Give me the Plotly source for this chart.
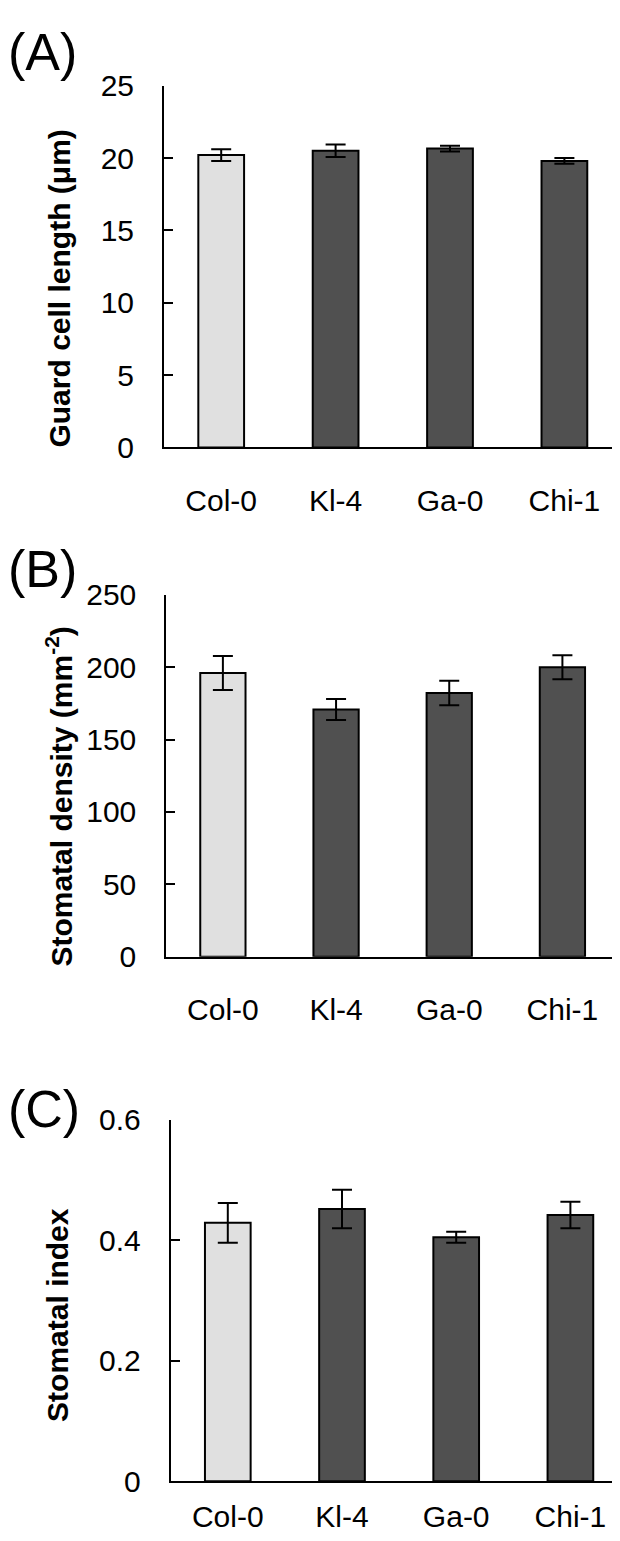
import plotly.graph_objects as go

W, H = 620, 1541

categories = ["Col-0", "Kl-4", "Ga-0", "Chi-1"]

# Panel A: guard cell length (um)
guard_len = [20.2, 20.5, 20.65, 19.8]
guard_err = [0.4, 0.43, 0.2, 0.2]

# Panel B: stomatal density (mm^-2)
density = [196.0, 170.8, 182.2, 200.0]
density_err = [11.7, 7.2, 8.4, 8.3]

# Panel C: stomatal index
index_vals = [0.429, 0.452, 0.405, 0.442]
index_err = [0.033, 0.032, 0.009, 0.022]

light = "rgb(224,224,224)"
dark = "rgb(80,80,80)"
bar_colors = [light, dark, dark, dark]

FONT = "Liberation Sans, Arial, sans-serif"


def px_x(p):
    return p / W


def py(p):
    return 1 - p / H


panels = [
    dict(vals=guard_len, err=guard_err, xd=[px_x(156), px_x(613.6)], yd=[py(432), py(62)],
         yr=[0, 25], tickvals=[0, 5, 10, 15, 20, 25], ticktext=["0", "5", "10", "15", "20", "25"],
         xstand=26),
    dict(vals=density, err=density_err, xd=[px_x(158.3), px_x(611)], yd=[py(952.7), py(582.7)],
         yr=[0, 250], tickvals=[0, 50, 100, 150, 200, 250], ticktext=["0", "50", "100", "150", "200", "250"],
         xstand=25),
    dict(vals=index_vals, err=index_err, xd=[px_x(162.7), px_x(619.5)], yd=[py(1489), py(1119.5)],
         yr=[0, 0.6], tickvals=[0, 0.2, 0.4, 0.6], ticktext=["0", "0.2", "0.4", "0.6"],
         xstand=8),
]

fig = go.Figure()
layout = dict(
    width=W, height=H, margin=dict(l=0, r=0, t=0, b=0),
    paper_bgcolor="white", plot_bgcolor="white", showlegend=False,
    font=dict(family=FONT, color="black"),
    bargap=0.6,
)

for i, p in enumerate(panels, start=1):
    sfx = "" if i == 1 else str(i)
    fig.add_trace(go.Bar(
        x=categories, y=p["vals"],
        marker=dict(color=bar_colors, line=dict(color="black", width=2)),
        error_y=dict(type="data", array=p["err"], visible=True, color="black", thickness=2, width=10),
        xaxis="x" + sfx, yaxis="y" + sfx, width=0.4,
    ))
    layout["xaxis" + sfx] = dict(
        domain=p["xd"], anchor="y" + sfx, showline=True, linecolor="black", linewidth=2,
        ticks="", showgrid=False, zeroline=False, tickfont=dict(size=30, family=FONT, color="black"),
        ticklabelstandoff=p["xstand"], range=[-0.5, 3.5],
    )
    layout["yaxis" + sfx] = dict(
        domain=p["yd"], anchor="x" + sfx, range=p["yr"], showline=True, linecolor="black", linewidth=2,
        ticks="inside", ticklen=9, tickwidth=2, tickcolor="black", showgrid=False, zeroline=False,
        tickvals=p["tickvals"], ticktext=p["ticktext"],
        tickfont=dict(size=30, family=FONT, color="black"), ticklabelstandoff=22,
    )

annotations = []
# panel letters
for txt, yc in [("(A)", 28), ("(B)", 556), ("(C)", 1108)]:
    annotations.append(dict(text=txt, x=px_x(-2), y=py(yc), xref="paper", yref="paper",
                            xanchor="left", yanchor="middle", showarrow=False,
                            font=dict(size=52, family=FONT, color="black")))
# y titles
for txt, xc, yc in [("Guard cell length (μm)", 52, 269.5),
                    ("Stomatal density (mm<sup>-2</sup>)", 51, 789),
                    ("Stomatal index", 50, 1319)]:
    annotations.append(dict(text="<b>" + txt + "</b>", x=px_x(xc), y=py(yc), xref="paper", yref="paper",
                            xanchor="center", yanchor="middle", textangle=-90, showarrow=False,
                            font=dict(size=30, family=FONT, color="black")))
layout["annotations"] = annotations

fig.update_layout(**layout)
fig.write_html("out.html")
